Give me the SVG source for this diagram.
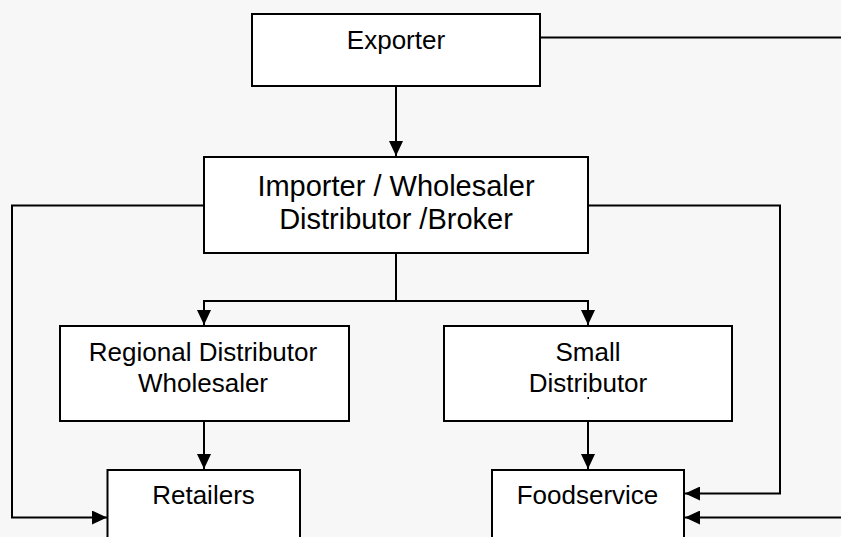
<svg xmlns="http://www.w3.org/2000/svg" width="841" height="537" viewBox="0 0 841 537">
<defs>
<style>
.box{fill:#ffffff;stroke:#000000;stroke-width:2}
.t{font-family:"Liberation Sans",Arial,sans-serif;fill:#000000;text-anchor:middle}
.c{fill:none;stroke:#000000;stroke-width:2}
</style>
<marker id="ah" markerUnits="userSpaceOnUse" markerWidth="16" markerHeight="14" refX="15" refY="7" orient="auto">
<path d="M0,0 L15,7 L0,14 Z" fill="#000000"/>
</marker>
</defs>
<rect width="841" height="537" fill="#f7f7f7"/>
<g id="connectors">
<path class="c" d="M396,86 V156" marker-end="url(#ah)"/>
<path class="c" d="M396,254 V301 H204 V325" marker-end="url(#ah)"/>
<path class="c" d="M396,301 H588 V325" marker-end="url(#ah)"/>
<path class="c" d="M204,421 V469" marker-end="url(#ah)"/>
<path class="c" d="M588,421 V469" marker-end="url(#ah)"/>
<path class="c" d="M204,205.5 H12 V517.5 H107" marker-end="url(#ah)"/>
<path class="c" d="M588,205.5 H780 V493.5 H685" marker-end="url(#ah)"/>
<path class="c" d="M540,37.5 H846 V517.5 H685" marker-end="url(#ah)"/>
</g>
<g id="exporter">
<rect class="box" x="252" y="14" width="288" height="72"/>
<text class="t" x="396" y="49.3" font-size="26">Exporter</text>
</g>
<g id="importer">
<rect class="box" x="204" y="157" width="384" height="96"/>
<text class="t" x="396" y="195.7" font-size="29">Importer / Wholesaler</text>
<text class="t" x="396" y="229.3" font-size="29">Distributor /Broker</text>
</g>
<g id="regional">
<rect class="box" x="60" y="326" width="289" height="95"/>
<text class="t" x="203" y="360.7" font-size="26">Regional Distributor</text>
<text class="t" x="203" y="391.7" font-size="26">Wholesaler</text>
</g>
<g id="small">
<rect class="box" x="444" y="326" width="288" height="95"/>
<text class="t" x="588" y="360.7" font-size="26">Small</text>
<text class="t" x="588" y="391.7" font-size="26">Distributor</text>
<rect x="587.5" y="397" width="1.5" height="2" fill="#000000"/>
</g>
<g id="retailers">
<rect class="box" x="107.5" y="470" width="192.5" height="80"/>
<text class="t" x="203.5" y="504.3" font-size="26">Retailers</text>
</g>
<g id="foodservice">
<rect class="box" x="492" y="470" width="192" height="80"/>
<text class="t" x="587.5" y="504.3" font-size="26">Foodservice</text>
</g>
</svg>
